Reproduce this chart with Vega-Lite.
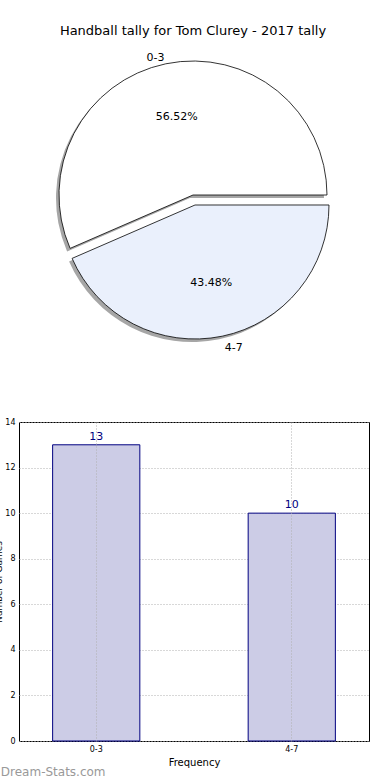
{
  "$schema": "https://vega.github.io/schema/vega-lite/v6.json",
  "padding": {"left": -6, "top": 25, "right": 0, "bottom": 0},
  "bounds": "flush",
  "spacing": 78,
  "config": {"font": "DejaVu Sans", "view": {"stroke": null}},
  "datasets": {
    "tally": [
      {"bin": "0-3", "games": 13, "pct": "56.52%"},
      {"bin": "4-7", "games": 10, "pct": "43.48%"}
    ]
  },
  "vconcat": [
    {
      "width": 348,
      "height": 298,
      "title": {"text": "Handball tally for Tom Clurey - 2017 tally", "fontSize": 13, "fontWeight": "normal", "offset": 8, "anchor": "middle"},
      "data": {"name": "tally"},
      "encoding": {
        "theta": {"field": "games", "type": "quantitative", "stack": true, "scale": {"range": [1.5708, -4.7124]}},
        "order": {"field": "bin", "type": "ordinal"}
      },
      "layer": [
        {"mark": {"type": "arc", "radius": 134, "fill": "#a6a6a6", "xOffset": -3, "yOffset": 3},
         "encoding": {"opacity": {"condition": {"test": "datum.bin === '0-3'", "value": 1}, "value": 0}}},
        {"mark": {"type": "arc", "radius": 134, "fill": "#a6a6a6", "xOffset": -1, "yOffset": 13},
         "encoding": {"opacity": {"condition": {"test": "datum.bin === '4-7'", "value": 1}, "value": 0}}},
        {"mark": {"type": "arc", "radius": 134, "stroke": "#000000", "strokeWidth": 0.8},
         "encoding": {
           "color": {"field": "bin", "type": "nominal", "scale": {"domain": ["0-3", "4-7"], "range": ["#ffffff", "#eaf0fc"]}, "legend": null},
           "opacity": {"condition": {"test": "datum.bin === '0-3'", "value": 1}, "value": 0}}},
        {"mark": {"type": "arc", "radius": 134, "stroke": "#000000", "strokeWidth": 0.8, "xOffset": 2, "yOffset": 10},
         "encoding": {
           "color": {"field": "bin", "type": "nominal", "scale": {"domain": ["0-3", "4-7"], "range": ["#ffffff", "#eaf0fc"]}, "legend": null},
           "opacity": {"condition": {"test": "datum.bin === '4-7'", "value": 1}, "value": 0}}},
        {"mark": {"type": "text", "radius": 140, "fontSize": 11, "align": "right", "color": "#000000"},
         "encoding": {"text": {"field": "bin"}, "opacity": {"condition": {"test": "datum.bin === '0-3'", "value": 1}, "value": 0}}},
        {"mark": {"type": "text", "radius": 146, "fontSize": 11, "align": "left", "color": "#000000", "xOffset": 2, "yOffset": 10},
         "encoding": {"text": {"field": "bin"}, "opacity": {"condition": {"test": "datum.bin === '4-7'", "value": 1}, "value": 0}}},
        {"mark": {"type": "text", "radius": 80, "fontSize": 11, "align": "center", "color": "#000000"},
         "encoding": {"text": {"field": "pct"}, "opacity": {"condition": {"test": "datum.bin === '0-3'", "value": 1}, "value": 0}}},
        {"mark": {"type": "text", "radius": 80, "fontSize": 11, "align": "center", "color": "#000000", "xOffset": 2, "yOffset": 10},
         "encoding": {"text": {"field": "pct"}, "opacity": {"condition": {"test": "datum.bin === '4-7'", "value": 1}, "value": 0}}}
      ]
    },
    {
      "width": 350,
      "height": 319,
      "data": {"name": "tally"},
      "view": {"stroke": "#000000", "strokeWidth": 1},
      "title": {"text": "Dream-Stats.com", "orient": "bottom", "anchor": "start", "frame": "bounds", "fontSize": 12, "fontWeight": "normal", "color": "#999999", "offset": 0, "dx": 6},
      "encoding": {
        "x": {"field": "bin", "type": "nominal", "sort": ["0-3", "4-7"],
          "scale": {"paddingInner": 0.554, "paddingOuter": 0.172},
          "axis": {"title": "Frequency", "labelAngle": 0, "labelFontSize": 8, "labelColor": "#000000", "titleFontSize": 10, "titleFontWeight": "normal", "titleColor": "#000000", "grid": true, "gridDash": [1, 2], "gridColor": "#b0b0b0", "ticks": false, "domain": false, "labelPadding": 4, "titlePadding": 4, "bandPosition": 0.5, "zindex": 1}},
        "y": {"field": "games", "type": "quantitative", "scale": {"domain": [0, 14]},
          "axis": {"title": "Number of Games", "values": [0, 2, 4, 6, 8, 10, 12, 14], "labelFontSize": 8, "labelColor": "#000000", "titleFontSize": 9, "titleFontWeight": "normal", "titleColor": "#000000", "grid": true, "gridDash": [1, 2], "gridColor": "#b0b0b0", "ticks": false, "domain": false, "labelPadding": 4, "titlePadding": 1, "zindex": 0}}
      },
      "layer": [
        {"mark": {"type": "bar", "fill": "#ccccE6", "stroke": "#000080", "strokeWidth": 1}},
        {"mark": {"type": "text", "baseline": "bottom", "dy": -3, "fontSize": 11, "color": "#000080"},
         "encoding": {"text": {"field": "games", "type": "quantitative"}}}
      ]
    }
  ]
}
